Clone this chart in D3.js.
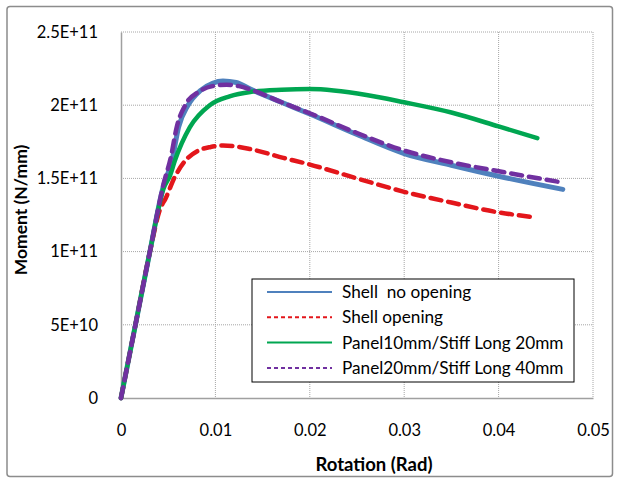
<!DOCTYPE html>
<html><head><meta charset="utf-8">
<script src="https://cdn.jsdelivr.net/npm/d3@7"></script>
<style>html,body{margin:0;padding:0;background:#fff;}svg{display:block;}</style>
</head><body>
<script>
// ---- data ----
const seriesNames = ["Shell  no opening", "Shell opening", "Panel10mm/Stiff Long 20mm", "Panel20mm/Stiff Long 40mm"];
const shellNoOpeningX = [0, 0.0015, 0.003, 0.0045, 0.0054, 0.0061, 0.0071, 0.0084, 0.0097, 0.0108, 0.0122, 0.0137, 0.017, 0.020, 0.025, 0.030, 0.035, 0.040, 0.0468];
const shellNoOpeningY = [0, 0.49e11, 0.98e11, 1.45e11, 1.62e11, 1.85e11, 2.0e11, 2.1e11, 2.15e11, 2.165e11, 2.155e11, 2.11e11, 2.02e11, 1.94e11, 1.80e11, 1.67e11, 1.59e11, 1.515e11, 1.425e11];
const shellOpeningX = [0, 0.0015, 0.003, 0.0042, 0.0047, 0.0057, 0.0068, 0.0082, 0.0095, 0.0108, 0.0137, 0.0172, 0.0197, 0.025, 0.0299, 0.035, 0.0398, 0.0435];
const shellOpeningY = [0, 0.49e11, 0.98e11, 1.3e11, 1.36e11, 1.51e11, 1.62e11, 1.69e11, 1.715e11, 1.725e11, 1.70e11, 1.64e11, 1.60e11, 1.50e11, 1.41e11, 1.335e11, 1.27e11, 1.237e11];
const panel10X = [0, 0.0015, 0.003, 0.0045, 0.0052, 0.0057, 0.0073, 0.0094, 0.0115, 0.0137, 0.017, 0.020, 0.026, 0.030, 0.035, 0.040, 0.0441];
const panel10Y = [0, 0.49e11, 0.98e11, 1.43e11, 1.52e11, 1.62e11, 1.85e11, 2.0e11, 2.06e11, 2.09e11, 2.105e11, 2.11e11, 2.07e11, 2.02e11, 1.95e11, 1.855e11, 1.775e11];
const panel20X = [0, 0.0015, 0.003, 0.0045, 0.0053, 0.0059, 0.0068, 0.0082, 0.0097, 0.0112, 0.0125, 0.014, 0.017, 0.020, 0.025, 0.030, 0.035, 0.0399, 0.0465];
const panel20Y = [0, 0.49e11, 0.98e11, 1.46e11, 1.65e11, 1.85e11, 2.0e11, 2.09e11, 2.13e11, 2.14e11, 2.13e11, 2.10e11, 2.02e11, 1.945e11, 1.81e11, 1.69e11, 1.61e11, 1.55e11, 1.475e11];
const xTicks = [0, 0.01, 0.02, 0.03, 0.04, 0.05];
const xTickLabels = ["0", "0.01", "0.02", "0.03", "0.04", "0.05"];
const yTicks = [0, 5e10, 1e11, 1.5e11, 2e11, 2.5e11];
const yTickLabels = ["0", "5E+10", "1E+11", "1.5E+11", "2E+11", "2.5E+11"];

const W = 620, H = 479;
const m = {left: 121, right: 593, top: 32, bottom: 398};
const font = "Lato, 'Open Sans', sans-serif";

const svg = d3.select("body").append("svg").attr("width", W).attr("height", H);
svg.append("rect").attr("x", 7).attr("y", 6.5).attr("width", 605.5).attr("height", 470)
  .attr("rx", 3).attr("fill", "#fff").attr("stroke", "#8c8c8c").attr("stroke-width", 1.5);

const x = d3.scaleLinear().domain([0, 0.05]).range([m.left, m.right]);
const y = d3.scaleLinear().domain([0, 2.5e11]).range([m.bottom, m.top]);

// gridlines
const grid = svg.append("g");
grid.selectAll(".gx").data(xTicks.slice(1)).join("line")
  .attr("x1", d => x(d)).attr("x2", d => x(d)).attr("y1", m.top).attr("y2", m.bottom)
  .attr("stroke", "#a6a6a6").attr("stroke-width", 1).attr("stroke-dasharray", "1,1");
grid.selectAll(".gy").data(yTicks.slice(1)).join("line")
  .attr("x1", m.left).attr("x2", m.right).attr("y1", d => y(d)).attr("y2", d => y(d))
  .attr("stroke", "#a6a6a6").attr("stroke-width", 1).attr("stroke-dasharray", "1,1");

// axes
const xAxis = d3.axisBottom(x).tickValues(xTicks).tickFormat((d, i) => xTickLabels[i]).tickSize(0).tickPadding(26);
const gx = svg.append("g").attr("transform", `translate(0,${m.bottom})`).call(xAxis);
gx.select(".domain").attr("stroke", "#a0a0a0").attr("stroke-width", 1.5);
gx.selectAll("text").attr("font-family", font).attr("font-size", 16.5).attr("fill", "#000");

const yAxis = d3.axisLeft(y).tickValues(yTicks).tickFormat((d, i) => yTickLabels[i]).tickSize(0).tickPadding(23);
const gy = svg.append("g").attr("transform", `translate(${m.left},0)`).call(yAxis);
gy.select(".domain").attr("stroke", "#a0a0a0").attr("stroke-width", 1.5);
gy.selectAll("text").attr("font-family", font).attr("font-size", 16.5).attr("fill", "#000");

// axis titles
svg.append("text").attr("x", 374).attr("y", 471).attr("text-anchor", "middle")
  .attr("font-family", font).attr("font-size", 18.5).attr("font-weight", "bold").text("Rotation (Rad)");
svg.append("text").attr("transform", `translate(27,210) rotate(-90)`).attr("text-anchor", "middle")
  .attr("font-family", font).attr("font-size", 17.5).attr("font-weight", "bold").text("Moment (N/mm)");

// series
const series = [
  {name: seriesNames[0], xs: shellNoOpeningX, ys: shellNoOpeningY, color: "#4f81bd", dash: null, lw: 5, ldash: null},
  {name: seriesNames[1], xs: shellOpeningX, ys: shellOpeningY, color: "#e3161b", dash: "11,7", lw: 4.5, ldash: "4,3"},
  {name: seriesNames[2], xs: panel10X, ys: panel10Y, color: "#00a651", dash: null, lw: 4.5, ldash: null},
  {name: seriesNames[3], xs: panel20X, ys: panel20Y, color: "#7030a0", dash: "11,7", lw: 4.5, ldash: "4,3"}
];
const line = d3.line().x(d => x(d[0])).y(d => y(d[1])).curve(d3.curveMonotoneX);
const lg = svg.append("g");
series.forEach(s => {
  lg.append("path").datum(s.xs.map((v, i) => [v, s.ys[i]]))
    .attr("d", line).attr("fill", "none").attr("stroke", s.color).attr("stroke-width", s.lw)
    .attr("stroke-linecap", "round").attr("stroke-linejoin", "round")
    .attr("stroke-dasharray", s.dash);
});

// legend
const leg = svg.append("g");
leg.append("rect").attr("x", 252).attr("y", 279).attr("width", 322).attr("height", 103)
  .attr("fill", "#fff").attr("stroke", "#000").attr("stroke-width", 1);
series.forEach((s, i) => {
  const yy = 292 + i * 25.3;
  leg.append("line").attr("x1", 267).attr("x2", 332).attr("y1", yy).attr("y2", yy)
    .attr("stroke", s.color).attr("stroke-width", 2).attr("stroke-dasharray", s.ldash);
  leg.append("text").attr("x", 342).attr("y", yy).attr("dy", "0.35em")
    .attr("font-family", font).attr("font-size", 17.2).attr("fill", "#000")
    .style("white-space", "pre").text(s.name);
});
</script>
</body></html>
